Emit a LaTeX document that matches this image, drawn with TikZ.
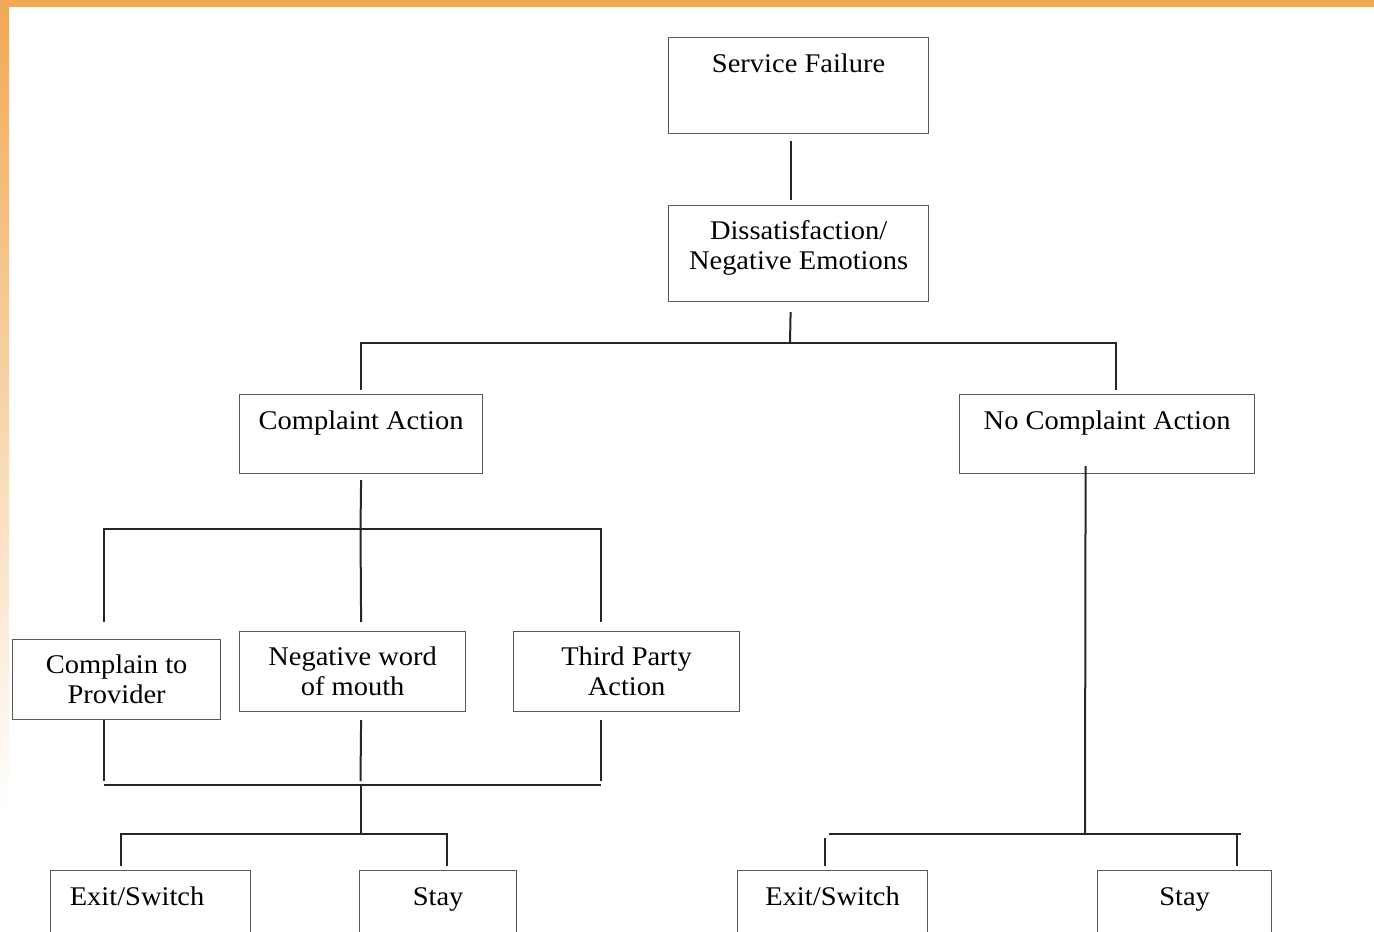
\documentclass[tikz,border=0pt]{standalone}
\usepackage{fontspec}
\setmainfont[FakeStretch=1.055]{Liberation Serif}
\usetikzlibrary{calc}
\definecolor{frameorange}{HTML}{F1A954}
\begin{document}
\begin{tikzpicture}[x=1pt,y=-1pt,
  box/.style={draw=black!65, line width=1.2pt, anchor=north west, inner ysep=0pt,
    align=center, font=\fontsize{27}{30}\selectfont},
  topbox/.style={box, text height=35pt},
  conn/.style={draw=black!85, line width=2pt}]
\useasboundingbox (0,0) rectangle (1374,932);
\clip (0,0) rectangle (1374,932);
% frame
\fill[frameorange] (0,0) rectangle (1374,7);
\shade[top color=frameorange, bottom color=white] (0,0) rectangle (9,810);
% nodes
\node[topbox, minimum width=260pt, text depth=61pt] (sf) at (668,37) {Service Failure};
\node[box, minimum width=260pt, minimum height=96pt] (dis) at (668,205)
  {\raisebox{5pt}[\height][\depth]{\begin{tabular}{@{}c@{}}Dissatisfaction/\\Negative Emotions\end{tabular}}};
\node[topbox, minimum width=243pt, text depth=44pt] (ca) at (239,394) {Complaint Action};
\node[topbox, minimum width=295pt, text depth=44pt] (nca) at (959,394) {No Complaint Action};
\node[box, minimum width=208pt, minimum height=80pt] (ctp) at (12,639) {Complain to\\Provider};
\node[box, minimum width=226pt, minimum height=80pt] (nwom) at (239,631) {Negative word\\of mouth};
\node[box, minimum width=226pt, minimum height=80pt] (tpa) at (513,631) {Third Party\\Action};
\node[topbox, minimum width=200pt, text depth=45pt] (ex1) at (50,870) {Exit/Switch\hspace*{27pt}};
\node[topbox, minimum width=157pt, text depth=45pt] (st1) at (359,870) {Stay};
\node[topbox, minimum width=190pt, text depth=45pt] (ex2) at (737,870) {Exit/Switch};
\node[topbox, minimum width=174pt, text depth=45pt] (st2) at (1097,870) {Stay};
% junctions
\coordinate (j1) at (790,343);
\coordinate (j2) at (360.5,529);
\coordinate (j3) at (360.5,785);
\coordinate (j4) at (360.5,834);
\coordinate (j5) at (1085,834);
% connectors
\draw[conn] ($(sf.south)+(-8,7)$) -- ($(dis.north)+(-8,-5)$);
\draw[conn] ($(dis.south)+(-8,10)$) -- (j1);
\draw[conn] ($(ca.north)+(0,-4)$) -- (ca.north |- j1) -- ($(nca.north |- j1)+(8.5,0)$) -- ($(nca.north)+(8.5,-4)$);
\draw[conn] ($(ca.south)+(0,6)$) -- (j2);
\draw[conn] ($(ctp.north)+(-13,-17)$) |- ($(tpa.north |- j2)+(-26,0)$) -- ($(tpa.north)+(-26,-9)$);
\draw[conn] (j2) -- ($(nwom.north)+(8.5,-9)$);
\draw[conn] ($(ctp.south)+(-13,0)$) -- ($(ctp.south |- j3)+(-13,-4)$);
\draw[conn] ($(nwom.south)+(8.5,8)$) -- ($(j3)+(0,-4)$);
\draw[conn] ($(tpa.south)+(-26,8)$) -- ($(tpa.south |- j3)+(-26,-4)$);
\draw[conn] ($(ctp.south |- j3)+(-13,0)$) -- ($(tpa.south |- j3)+(-26,0)$);
\draw[conn] (j3) -- (j4);
\draw[conn] ($(ex1.north)+(-30,-4)$) |- ($(st1.north |- j4)+(8.5,0)$) -- ($(st1.north)+(8.5,-4)$);
\draw[conn] ($(nca.south)+(-21.5,-8)$) -- (j5);
\draw[conn] ($(ex2.north |- j5)+(-4,0)$) -- ($(st2.north |- j5)+(56,0)$);
\draw[conn] ($(ex2.north |- j5)+(-8,4)$) -- ($(ex2.north)+(-8,-4)$);
\draw[conn] ($(st2.north |- j5)+(52,0)$) -- ($(st2.north)+(52,-4)$);
\end{tikzpicture}
\end{document}
